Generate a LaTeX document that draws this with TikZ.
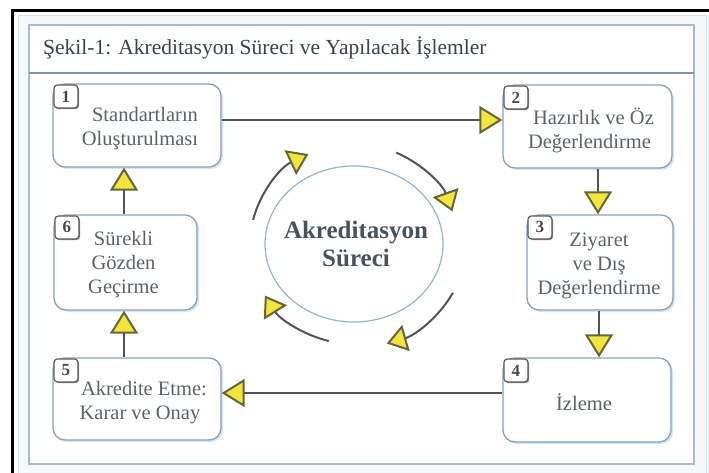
\documentclass[tikz,border=0pt]{standalone}
\usepackage{fontspec}
\setmainfont{Liberation Serif}
\usetikzlibrary{arrows.meta,calc,shapes.geometric,shadows}

\definecolor{linegray}{HTML}{4F5459}
\definecolor{tipyellow}{HTML}{F2E63E}
\definecolor{tipedge}{HTML}{66643A}
\definecolor{boxedge}{HTML}{86A2B6}
\definecolor{boxshade}{HTML}{D5E5F1}
\definecolor{textgray}{HTML}{5B6168}
\definecolor{hubtextc}{HTML}{46525D}
\definecolor{hubedge}{HTML}{93B5CC}
\definecolor{framec}{HTML}{A7BCCB}
\definecolor{sepc}{HTML}{7E95A5}
\definecolor{panelc}{HTML}{F4F8FA}
\definecolor{panelline}{HTML}{D5E0E8}
\definecolor{titlec}{HTML}{36434E}
\definecolor{badgec}{HTML}{595959}

\tikzset{
  stepbox/.style={draw=boxedge, line width=1.3pt, rounded corners=12pt, fill=white,
    inner sep=0pt, drop shadow={shadow xshift=2pt, shadow yshift=-2pt, fill=boxshade, opacity=1}},
  boxtext/.style={align=center, text=textgray, font=\fontsize{20.5}{24}\selectfont, inner sep=0pt},
  badge/.style={draw=badgec, line width=1.2pt, fill=white, rounded corners=3.5pt,
    minimum width=24pt, minimum height=23pt, inner sep=0pt, anchor=north west,
    text=badgec!80!black, font=\bfseries\fontsize{17}{17}\selectfont,
    drop shadow={shadow xshift=1.2pt, shadow yshift=-1.2pt, fill=black!45, opacity=1}},
  flow/.style={draw=linegray, line width=2pt,
    -{Triangle[length=23pt, width=28pt, fill=tipyellow, color=tipedge]}},
  cyc/.style={draw=linegray, line width=2pt,
    -{Triangle[length=20pt, width=27pt, fill=tipyellow, color=tipedge]}},
}

\begin{document}
\begin{tikzpicture}[x=1pt, y=-1pt]
\useasboundingbox (0,0) rectangle (709,473);
\fill[white] (0,0) rectangle (709,473);

% page frame
\fill[panelc] (18,15) rectangle (709,473);
\draw[panelline, line width=0.8pt] (18,473) -- (18,15) -- (706,15) -- (706,473);
\draw[black, line width=3pt] (12,473) -- (12,10.5) -- (709,10.5);
\draw[framec, line width=1.2pt, fill=white] (29,25) rectangle (694,464);
\draw[sepc, line width=1.2pt] (29,73) -- (694,73);

% title
\node[anchor=base west, inner sep=0pt, text=titlec, font=\fontsize{21.5}{24}\selectfont] (title) at (43,55)
  {Şekil-1: Akreditasyon Süreci ve Yapılacak İşlemler};

% steps
\node[stepbox, minimum width=168pt, minimum height=83pt] (b1) at (137,125.5) {};
\node[stepbox, minimum width=169pt, minimum height=83pt] (b2) at (587.5,126.5) {};
\node[stepbox, minimum width=146pt, minimum height=95pt] (b3) at (600,262.5) {};
\node[stepbox, minimum width=168pt, minimum height=84pt] (b4) at (587,400) {};
\node[stepbox, minimum width=168pt, minimum height=82pt] (b5) at (137,399) {};
\node[stepbox, minimum width=143pt, minimum height=95pt] (b6) at (125.5,262.5) {};

\node[boxtext] (t1) at ([shift={(3pt,-3pt)}]b1.center) {\hspace*{10pt}Standartların\\Oluşturulması};
\node[boxtext] (t2) at ([shift={(2pt,-4pt)}]b2.center) {\hspace*{8pt}Hazırlık ve Öz\\Değerlendirme};
\node[boxtext] (t3) at ([shift={(-1pt,-3pt)}]b3.center) {Ziyaret\\ve Dış\\Değerlendirme};
\node[boxtext] (t4) at ([shift={(-3pt,-2pt)}]b4.center) {İzleme};
\node[boxtext] (t5) at ([shift={(3pt,-3.5pt)}]b5.center) {\hspace*{8pt}Akredite Etme:\\Karar ve Onay};
\node[boxtext] (t6) at ([shift={(-2pt,-2.5pt)}]b6.center) {Sürekli\\Gözden\\Geçirme};

\node[badge] (n1) at ([shift={(1pt,-1pt)}]b1.north west) {1};
\node[badge] (n2) at ([shift={(1pt,-1pt)}]b2.north west) {2};
\node[badge] (n3) at ([shift={(1pt,-1pt)}]b3.north west) {3};
\node[badge] (n4) at ([shift={(1pt,-1pt)}]b4.north west) {4};
\node[badge] (n5) at ([shift={(1pt,-1pt)}]b5.north west) {5};
\node[badge] (n6) at ([shift={(1pt,-1pt)}]b6.north west) {6};

% connectors between steps
\coordinate (p12) at ([yshift=5.5pt]b1.east);
\coordinate (p45) at ([yshift=7pt]b4.west);
\draw[flow] (p12) -- (p12 -| b2.west);
\draw[flow] ([xshift=-2pt]b3.north |- b2.south) -- ([xshift=-2pt]b3.north);
\draw[flow] ([xshift=-1pt]b3.south) -- ([xshift=-1pt]b3.south |- b4.north);
\draw[flow] (p45) -- (p45 -| b5.east);
\draw[flow] ([xshift=-1.5pt]b6.south |- b5.north) -- ([xshift=-1.5pt]b6.south);
\draw[flow] ([xshift=-1.5pt]b6.north) -- ([xshift=-1.5pt]b6.north |- b1.south);

% central cycle
\node[ellipse, draw=hubedge, line width=1.2pt, fill=white,
      minimum width=178pt, minimum height=156pt, inner sep=0pt] (hub) at (354,244) {};
\node[align=center, inner sep=0pt, text=hubtextc, font=\bfseries\fontsize{25}{28}\selectfont]
  (ht) at ([xshift=2pt]hub.center) {Akreditasyon\\Süreci};

\draw[cyc] ([shift={(-166:104 and 100)}]hub.center)
  arc[start angle=-166, end angle=-116, x radius=104, y radius=100];
\draw[cyc] ([shift={(-66:104 and 100)}]hub.center)
  arc[start angle=-66, end angle=-19, x radius=104, y radius=100];
\draw[cyc] ([shift={(28:112 and 104)}]hub.center)
  arc[start angle=28, end angle=73, x radius=112, y radius=104];
\draw[cyc] ([shift={(104:104 and 100)}]hub.center)
  arc[start angle=104, end angle=149, x radius=104, y radius=100];
\end{tikzpicture}
\end{document}
